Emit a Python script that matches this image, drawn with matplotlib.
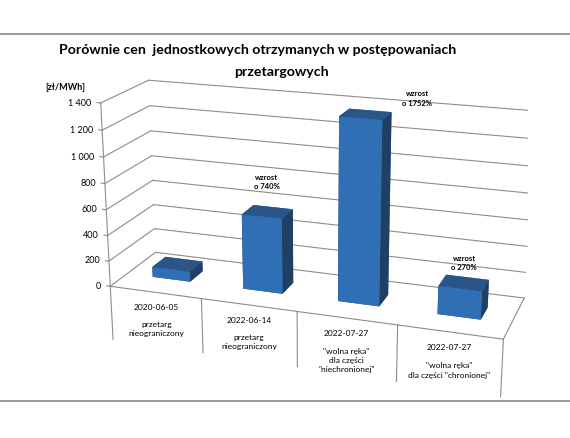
import matplotlib
matplotlib.use("Agg")
import matplotlib.pyplot as plt
from matplotlib.lines import Line2D
from mpl_toolkits.mplot3d import proj3d
import numpy as np

plt.rcParams["font.family"] = ["Lato", "DejaVu Sans"]

# ── dane ──────────────────────────────────────────────────
dates  = ["2020-06-05", "2022-06-14", "2022-07-27", "2022-07-27"]
modes  = ["przetarg\nnieograniczony",
          "przetarg\nnieograniczony",
          "\"wolna ręka\"\ndla części\n\"niechronionej\"",
          "\"wolna ręka\"\ndla części \"chronionej\""]
prices = [80, 580, 1375, 212]          # zł/MWh
growth = [None, "wzrost\no 740%", "wzrost\no 1752%", "wzrost\no 270%"]
yticks = [0, 200, 400, 600, 800, 1000, 1200, 1400]
ytick_labels = ["0", "200", "400", "600", "800", "1 000", "1 200", "1 400"]

C_FRONT = "#2f6fb5"
C_TOP   = "#2a5687"
C_SIDE  = "#213f63"
C_GRID  = "#8c8c8c"

fig = plt.figure(figsize=(5.70, 4.39), dpi=100)
fig.patch.set_facecolor("white")

# ramka wykresu (linie skanu)
fig.add_artist(Line2D([0, 1], [1 - 35/439] * 2, color="#8a8a8a", lw=1.2))
fig.add_artist(Line2D([0, 1], [1 - 402/439] * 2, color="#8a8a8a", lw=1.2))

fig.text(258/570, 1 - 50/439, "Porównie cen  jednostkowych otrzymanych w postępowaniach",
         ha="center", va="center", fontsize=10.2, fontweight="bold")
fig.text(281/570, 1 - 72/439, "przetargowych",
         ha="center", va="center", fontsize=10.2, fontweight="bold")
fig.text(45/570, 1 - 88/439, "[zł/MWh]", ha="left", va="center",
         fontsize=6.5, fontweight="bold")

ax = fig.add_axes([0.042, 0.025, 1.0, 1.0], projection="3d", computed_zorder=False)
ax.set_proj_type("persp", focal_length=0.55)
ax.view_init(elev=18, azim=-71)
ax.set_box_aspect((4.05, 1.06, 1.92), zoom=1.033)
ax.set_axis_off()
ax.set_xlim(0, 4)
ax.set_ylim(0, 1)
ax.set_zlim(0, 1400)

n = len(prices)
zmax = yticks[-1]

# siatka na ścianach
for z in yticks:
    ax.plot([0, 0], [0, 1], [z, z], color=C_GRID, lw=0.8, zorder=1)
    ax.plot([0, 4], [1, 1], [z, z], color=C_GRID, lw=0.8, zorder=1)
    ax.plot([-0.04, 0], [0, 0], [z, z], color=C_GRID, lw=0.8, zorder=1)
ax.plot([0, 0], [0, 0], [0, zmax], color=C_GRID, lw=0.8, zorder=1)
# podłoga
ax.plot([0, n], [0, 0], [0, 0], color=C_GRID, lw=0.8, zorder=1)
ax.plot([n, n], [0, 1], [0, 0], color=C_GRID, lw=0.8, zorder=1)

# słupki
bw, bd = 0.42, 0.3
xs = np.arange(n) + (1 - bw) / 2
ys = np.full(n, 0.36)
face_cols = []
for _ in range(n):
    face_cols += [C_TOP, C_TOP, C_FRONT, C_FRONT, C_SIDE, C_SIDE]
ax.bar3d(xs, ys, np.zeros(n), bw, bd, prices, color=face_cols,
         shade=False, zorder=3)

# tabela kategorii
for k in range(n + 1):
    ax.plot([k, k], [0, 0], [0, -430], color=C_GRID, lw=0.8, zorder=1)

fig.canvas.draw()
M = ax.get_proj()


def put(x, y, z, s, **kw):
    px, py, _ = proj3d.proj_transform(x, y, z, M)
    ax.text2D(px, py, s, transform=ax.transData, **kw)


# etykiety osi wartości
for z, lab in zip(yticks, ytick_labels):
    put(-0.1, 0, z, lab, ha="right", va="center", fontsize=6.5, zorder=5)

for k in range(n):
    put(k + 0.5, 0, -110, dates[k], ha="center", va="center",
        fontsize=6.0, zorder=5)
    put(k + 0.5, 0, -220, modes[k], ha="center", va="top",
        fontsize=6.0, linespacing=1.35, zorder=5)

# opisy wzrostu
lab_dx = [0, 0, 0.5, 0]
lab_dz = [0, 240, 150, 160]
for k in range(n):
    if growth[k] is None:
        continue
    put(k + 0.5 + lab_dx[k], 0.5, prices[k] + lab_dz[k], growth[k],
        ha="center", va="center", fontsize=5.5, fontweight="bold",
        linespacing=1.4, zorder=6)

fig.savefig("out.png", dpi=100, facecolor="white")
